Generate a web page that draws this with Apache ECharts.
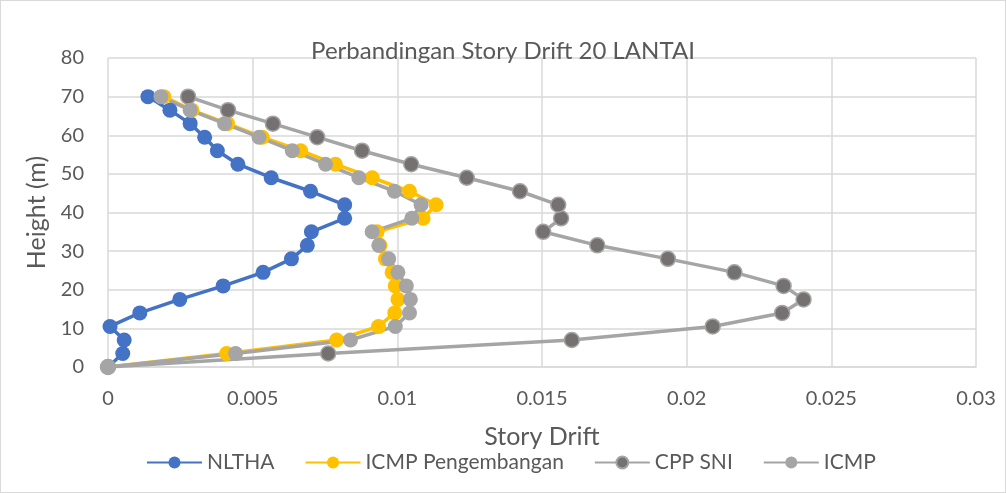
<!DOCTYPE html>
<html><head><meta charset="utf-8">
<script src="https://cdn.jsdelivr.net/npm/echarts@6/dist/echarts.min.js"></script>
<style>html,body{margin:0;padding:0;background:#fff}#c{width:1006px;height:493px;box-sizing:border-box;border:1px solid #d9d9d9}</style>
</head><body><div id="c"></div>
<script>
const heights = [0,3.5,7,10.5,14,17.5,21,24.5,28,31.5,35,38.5,42,45.5,49,52.5,56,59.5,63,66.5,70];
const nltha = [0,0.00051,0.00056,0.00007,0.0011,0.00248,0.00398,0.00536,0.00634,0.00689,0.00703,0.00818,0.00818,0.0070,0.00564,0.00449,0.00378,0.00334,0.00284,0.00214,0.00138];
const icmpPeng = [0,0.0041,0.0079,0.00935,0.00991,0.01002,0.00993,0.00982,0.00959,0.0094,0.0093,0.01089,0.01134,0.01042,0.00913,0.00786,0.00666,0.00533,0.00413,0.0029,0.00193];
const cppSni = [0,0.00761,0.01603,0.0209,0.0233,0.02404,0.02335,0.02165,0.01935,0.01691,0.01504,0.01566,0.01556,0.01424,0.0124,0.01048,0.00878,0.00723,0.0057,0.00415,0.00277];
const icmp = [0,0.00441,0.00838,0.00993,0.01042,0.01045,0.01031,0.01002,0.0097,0.00936,0.00913,0.0105,0.01082,0.0099,0.00867,0.00752,0.00637,0.00522,0.00403,0.00284,0.00183];
const xTicks = [0,0.005,0.01,0.015,0.02,0.025,0.03];

const font = 'Lato, "Noto Sans", sans-serif';
function pairs(v){return v.map((x,i)=>[x,heights[i]]);}
function ser(name, vals, lineColor, fill, border){
  return {name, type:'line', data:pairs(vals), symbol:'circle', symbolSize:15,
    lineStyle:{color:lineColor,width:3.5}, itemStyle:{color:fill,borderColor:border,borderWidth:border===fill?0:1.5},
    emphasis:{disabled:true}, animation:false};
}
const chart = echarts.init(document.getElementById('c'));
chart.setOption({
  animation:false,
  title:{text:'Perbandingan Story Drift 20 LANTAI',left:'center',top:33,textStyle:{fontFamily:font,fontSize:24,fontWeight:'normal',color:'#595959'}},
  grid:{left:107,right:29,top:57,bottom:125,containLabel:false},
  xAxis:{type:'value',min:0,max:0.03,interval:0.005,name:'Story Drift',nameLocation:'middle',nameGap:57,
    nameTextStyle:{fontFamily:font,fontSize:25,color:'#595959'},
    axisLine:{show:true,lineStyle:{color:'#d9d9d9',width:1.5}},axisTick:{show:false},
    axisLabel:{fontFamily:font,fontSize:20,color:'#595959',margin:22,formatter:v=>{const t=xTicks.find(a=>Math.abs(a-v)<1e-9);return String(t!==undefined?t:v);}},
    splitLine:{show:true,lineStyle:{color:'#d9d9d9',width:1.5}}},
  yAxis:{type:'value',min:0,max:80,interval:10,name:'Height (m)',nameLocation:'middle',nameGap:56,nameRotate:90,
    nameTextStyle:{fontFamily:font,fontSize:25,color:'#595959'},
    axisLine:{show:false},axisTick:{show:false},
    axisLabel:{fontFamily:font,fontSize:20,color:'#595959',margin:24},
    splitLine:{show:true,lineStyle:{color:'#d9d9d9',width:1.5}}},
  legend:{top:446,left:140,itemWidth:55,itemHeight:15,itemGap:30,
    textStyle:{fontFamily:font,fontSize:21,color:'#595959'},
    data:['NLTHA','ICMP Pengembangan','CPP SNI','ICMP']},
  series:[
    ser('NLTHA',nltha,'#4472C4','#4472C4','#4472C4'),
    ser('ICMP Pengembangan',icmpPeng,'#FFC000','#FFC000','#FFC000'),
    ser('CPP SNI',cppSni,'#A5A5A5','#767171','#A5A5A5'),
    ser('ICMP',icmp,'#A5A5A5','#A5A5A5','#A5A5A5')
  ]
});
</script></body></html>
